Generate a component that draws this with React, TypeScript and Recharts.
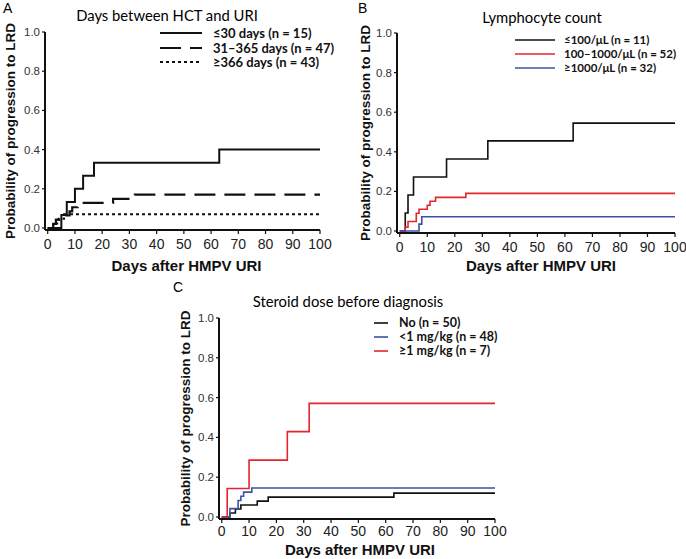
import { LineChart, Line, XAxis, YAxis, Legend } from 'recharts';

// x ticks / y ticks shared by all panels
const dayTicks = [0, 10, 20, 30, 40, 50, 60, 70, 80, 90, 100];
const probTicks = [0, 0.2, 0.4, 0.6, 0.8, 1.0];

// Panel A: days between HCT and URI
const a30Days = [0, 5, 7, 10, 13, 17, 63, 100];
const a30Prob = [0, 0.067, 0.133, 0.2, 0.267, 0.333, 0.4, 0.4];
const a365Days = [0, 2, 3, 6, 8, 9, 11, 24, 32, 100];
const a365Prob = [0, 0.021, 0.043, 0.064, 0.085, 0.106, 0.128, 0.149, 0.17, 0.17];
const a366Days = [0, 2, 4, 6, 100];
const a366Prob = [0, 0.023, 0.047, 0.07, 0.07];

// Panel B: lymphocyte count
const bLowDays = [0, 2, 3, 5, 17, 32, 63, 100];
const bLowProb = [0, 0.091, 0.182, 0.273, 0.364, 0.455, 0.545, 0.545];
const bMidDays = [0, 2, 3, 6, 7, 10, 11, 13, 24, 100];
const bMidProb = [0, 0.019, 0.048, 0.09, 0.11, 0.13, 0.15, 0.17, 0.19, 0.19];
const bHighDays = [0, 7, 8, 100];
const bHighProb = [0, 0.035, 0.072, 0.072];

// Panel C: steroid dose before diagnosis
const cNoDays = [0, 3, 5, 7, 13, 17, 63, 100];
const cNoProb = [0, 0.02, 0.04, 0.06, 0.08, 0.1, 0.12, 0.12];
const cLowDays = [0, 3, 6, 7, 8, 11, 100];
const cLowProb = [0, 0.042, 0.083, 0.104, 0.125, 0.146, 0.146];
const cHighDays = [0, 2, 10, 24, 32, 100];
const cHighProb = [0, 0.143, 0.286, 0.429, 0.571, 0.571];

const toPoints = (days: number[], prob: number[]) => days.map((x, i) => ({ x, y: prob[i] }));

const RED = '#e3262c';
const BLUE = '#3d52a3';
const BLACK = '#111';

const AXIS_FONT = '"Liberation Sans", Arial, sans-serif';
const LABEL_FONT = 'Lato, "Open Sans", sans-serif';

type Series = { name: string; color: string; dash?: string; width: number; points: { x: number; y: number }[] };

const panelA: Series[] = [
  { name: '≤30 days (n = 15)', color: BLACK, width: 2, points: toPoints(a30Days, a30Prob) },
  { name: '31–365 days (n = 47)', color: BLACK, dash: '21 9', width: 2.2, points: toPoints(a365Days, a365Prob) },
  { name: '≥366 days (n = 43)', color: BLACK, dash: '3 3', width: 2, points: toPoints(a366Days, a366Prob) },
];
const panelB: Series[] = [
  { name: '≤100/μL (n = 11)', color: BLACK, width: 1.6, points: toPoints(bLowDays, bLowProb) },
  { name: '100–1000/μL (n = 52)', color: RED, width: 1.6, points: toPoints(bMidDays, bMidProb) },
  { name: '≥1000/μL (n = 32)', color: BLUE, width: 1.6, points: toPoints(bHighDays, bHighProb) },
];
const panelC: Series[] = [
  { name: 'No (n = 50)', color: BLACK, width: 1.6, points: toPoints(cNoDays, cNoProb) },
  { name: '<1 mg/kg (n = 48)', color: BLUE, width: 1.6, points: toPoints(cLowDays, cLowProb) },
  { name: '≥1 mg/kg (n = 7)', color: RED, width: 1.6, points: toPoints(cHighDays, cHighProb) },
];

type PanelProps = {
  series: Series[];
  left: number;
  top: number;
  width: number;
  height: number;
  margin: { top: number; right: number; bottom: number; left: number };
  yAxisWidth: number;
  xAxisHeight: number;
  xTickMargin: number;
  xLabelOffset: number;
  xLabelDx: number;
  yLabelOffset: number;
  letter: string;
  letterPos: [number, number];
  title: string;
  titlePos: [number, number];
  legendPos: [number, number];
  legendLine: number;
  legendGap: number;
  legendRow: number;
  legendFont: number;
};

function Panel(p: PanelProps) {
  const renderLegend = () => (
    <div style={{ fontFamily: LABEL_FONT, fontWeight: 700, fontSize: p.legendFont, color: '#111', whiteSpace: 'nowrap' }}>
      {p.series.map((s) => (
        <div key={s.name} style={{ display: 'flex', alignItems: 'center', height: p.legendRow, lineHeight: `${p.legendRow}px` }}>
          <svg width={p.legendLine} height={6} style={{ marginRight: p.legendGap, flex: 'none' }}>
            <line x1={0} y1={3} x2={p.legendLine} y2={3} stroke={s.color} strokeWidth={s.width} strokeDasharray={s.dash} />
          </svg>
          <span>{s.name}</span>
        </div>
      ))}
    </div>
  );

  return (
    <div style={{ position: 'absolute', left: p.left, top: p.top, width: p.width, height: p.height }}>
      <div style={{ position: 'absolute', left: p.letterPos[0], top: p.letterPos[1], fontFamily: AXIS_FONT, fontSize: 14, lineHeight: '14px' }}>
        {p.letter}
      </div>
      <div
        style={{
          position: 'absolute',
          left: p.titlePos[0],
          top: p.titlePos[1],
          width: 'max-content',
          transform: 'translate(-50%, -50%)',
          fontFamily: LABEL_FONT,
          fontSize: 14.8,
          lineHeight: '18px',
          whiteSpace: 'nowrap',
          zIndex: 2,
        }}
      >
        {p.title}
      </div>
      <LineChart width={p.width} height={p.height} margin={p.margin}>
        <XAxis
          type="number"
          dataKey="x"
          domain={[-1, 100]}
          ticks={dayTicks}
          allowDataOverflow
          height={p.xAxisHeight}
          tickSize={4}
          tickMargin={p.xTickMargin}
          axisLine={{ stroke: '#111', strokeWidth: 2 }}
          tickLine={{ stroke: '#111', strokeWidth: 1.2 }}
          tick={{ fill: '#222', fontSize: 14, fontFamily: AXIS_FONT }}
          label={{
            value: 'Days after HMPV URI',
            position: 'insideBottom',
            offset: p.xLabelOffset,
            dx: p.xLabelDx,
            style: { fontFamily: AXIS_FONT, fontWeight: 700, fontSize: 15, fill: '#111' },
          }}
        />
        <YAxis
          type="number"
          domain={[-0.01, 1]}
          ticks={probTicks}
          allowDataOverflow
          width={p.yAxisWidth}
          tickSize={3}
          tickMargin={2}
          tickFormatter={(v: number) => v.toFixed(1)}
          axisLine={{ stroke: '#111', strokeWidth: 2 }}
          tickLine={{ stroke: '#111', strokeWidth: 1.2 }}
          tick={{ fill: '#333', fontSize: 11.5, fontFamily: AXIS_FONT }}
          label={{
            value: 'Probability of progression to LRD',
            angle: -90,
            position: 'insideLeft',
            offset: p.yLabelOffset,
            style: { textAnchor: 'middle', fontFamily: AXIS_FONT, fontWeight: 700, fontSize: 13.5, fill: '#111' },
          }}
        />
        {p.series.map((s) => (
          <Line
            key={s.name}
            data={s.points}
            dataKey="y"
            name={s.name}
            type="stepAfter"
            stroke={s.color}
            strokeWidth={s.width}
            strokeDasharray={s.dash}
            dot={false}
            activeDot={false}
            isAnimationActive={false}
          />
        ))}
        <Legend
          content={renderLegend}
          layout="vertical"
          align="center"
          verticalAlign="middle"
          wrapperStyle={{ left: p.legendPos[0], top: p.legendPos[1], width: 220 }}
        />
      </LineChart>
    </div>
  );
}

export default function App() {
  return (
    <div style={{ position: 'absolute', left: 0, top: 0, width: 686, height: 559, background: '#fff', overflow: 'hidden' }}>
      <Panel
        series={panelA}
        left={0}
        top={0}
        width={343}
        height={280}
        margin={{ top: 32, right: 23, bottom: 0, left: 0 }}
        yAxisWidth={45}
        xAxisHeight={50}
        xTickMargin={5}
        xLabelOffset={9}
        xLabelDx={4}
        yLabelOffset={10}
        letter="A"
        letterPos={[3, 1]}
        title="Days between HCT and URI"
        titlePos={[167, 15]}
        legendPos={[160, 26]}
        legendLine={42}
        legendGap={11}
        legendRow={14.5}
        legendFont={13}
      />
      <Panel
        series={panelB}
        left={343}
        top={0}
        width={343}
        height={280}
        margin={{ top: 33, right: 11, bottom: 0, left: 0 }}
        yAxisWidth={54}
        xAxisHeight={47}
        xTickMargin={5}
        xLabelOffset={9}
        xLabelDx={5}
        yLabelOffset={22}
        letter="B"
        letterPos={[15, 1]}
        title="Lymphocyte count"
        titlePos={[199, 17]}
        legendPos={[172, 33]}
        legendLine={40}
        legendGap={9}
        legendRow={14}
        legendFont={11.5}
      />
      <Panel
        series={panelC}
        left={170}
        top={280}
        width={343}
        height={279}
        margin={{ top: 38, right: 18, bottom: 0, left: 0 }}
        yAxisWidth={49}
        xAxisHeight={40}
        xTickMargin={3}
        xLabelOffset={4}
        xLabelDx={3}
        yLabelOffset={15}
        letter="C"
        letterPos={[3, 0]}
        title="Steroid dose before diagnosis"
        titlePos={[178, 21]}
        legendPos={[204, 36]}
        legendLine={14}
        legendGap={11}
        legendRow={14}
        legendFont={12.5}
      />
    </div>
  );
}
